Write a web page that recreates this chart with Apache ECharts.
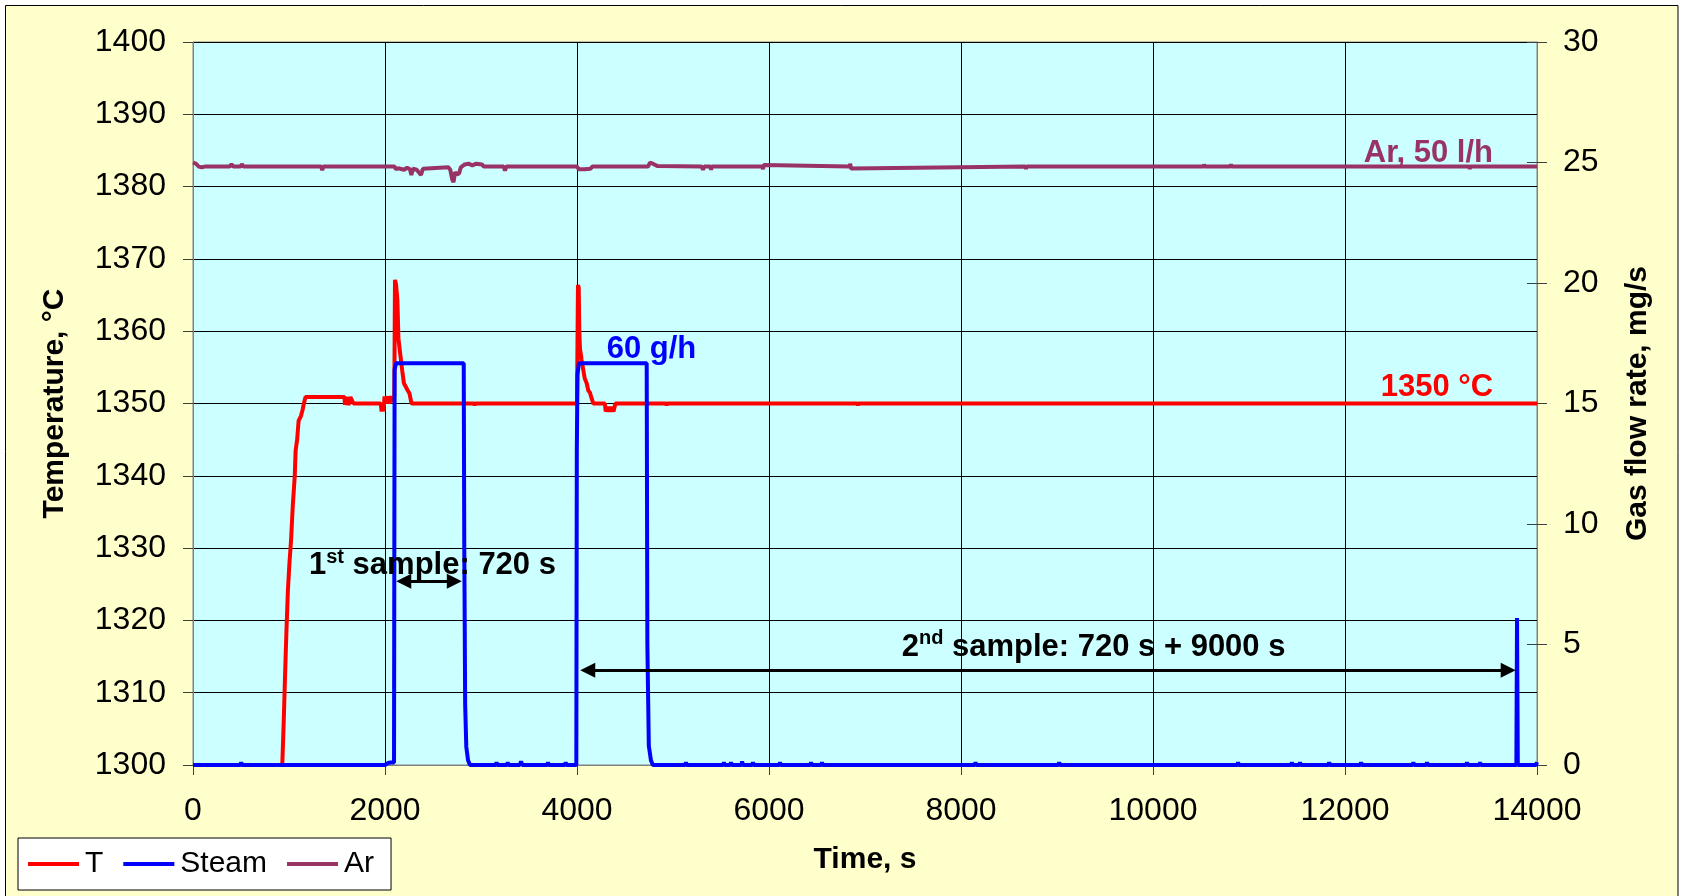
<!DOCTYPE html>
<html>
<head>
<meta charset="utf-8">
<script src="https://cdn.jsdelivr.net/npm/echarts@6/dist/echarts.min.js"></script>
<style>
  html, body { margin: 0; padding: 0; background: #fff; }
  #main { width: 1681px; height: 896px; }
</style>
</head>
<body>
<div id="main"></div>
<script>
// axis ticks
var timeTicks = [0, 2000, 4000, 6000, 8000, 10000, 12000, 14000];
var tempRange = [1300, 1400];
var flowRange = [0, 30];

// T, °C  [time s, temperature]
var tempPoints = [
  [930, 1300], [945, 1306], [958, 1312], [972, 1318], [988, 1324], [1005, 1328],
  [1021, 1331], [1040, 1336], [1060, 1340], [1069, 1343.5], [1085, 1345], [1100, 1347.6],
  [1125, 1348.3], [1141, 1349.1], [1155, 1350], [1172, 1350.9], [1578, 1350.9], [1583, 1349.8],
  [1595, 1350.9], [1612, 1350.9], [1620, 1349.8], [1640, 1350.9], [1660, 1350.9], [1672, 1350],
  [1955, 1350], [1965, 1348.9], [1975, 1350], [1985, 1348.9], [1995, 1351], [2005, 1350],
  [2025, 1351], [2040, 1350], [2060, 1351], [2080, 1350.2], [2097, 1351], [2104, 1367.1],
  [2115, 1366.5], [2129, 1364.3], [2140, 1359], [2150, 1357.8], [2165, 1356.2], [2180, 1354.5],
  [2197, 1352.8], [2215, 1352.6], [2237, 1351.8], [2255, 1351.4], [2276, 1350], [2930, 1350],
  [2934, 1349.7], [2938, 1350], [4000, 1350], [4010, 1366.4], [4018, 1366], [4024, 1360],
  [4031, 1357.6], [4048, 1356], [4066, 1354.6], [4080, 1353.5], [4101, 1352.8], [4118, 1351.8],
  [4135, 1351.5], [4150, 1350.8], [4170, 1350], [4290, 1350], [4300, 1348.9], [4320, 1349.5],
  [4340, 1348.9], [4360, 1349.5], [4380, 1348.9], [4400, 1350], [4930, 1350], [4934, 1349.7],
  [4938, 1350], [6920, 1350], [6925, 1349.7], [6930, 1350], [14000, 1350]
];

// Steam, mg/s  [time s, flow]
var steamPoints = [
  [0, 0], [495, 0], [502, 0.12], [509, 0], [2000, 0], [2030, 0.08], [2060, 0.1], [2094, 0.1],
  [2100, 16.4], [2115, 16.67], [2820, 16.67], [2826, 9], [2835, 2.5], [2847, 0.75], [2865, 0.2],
  [2885, 0], [3155, 0], [3162, 0.12], [3169, 0], [3271, 0], [3278, 0.12], [3285, 0], [3405, 0],
  [3417, 0.15], [3430, 0], [3691, 0], [3698, 0.12], [3705, 0], [3875, 0], [3882, 0.12], [3889, 0],
  [3993, 0], [3998, 13], [4005, 16.2], [4020, 16.67], [4726, 16.67], [4733, 5], [4748, 0.8],
  [4770, 0.2], [4790, 0], [5128, 0], [5135, 0.12], [5142, 0], [5523, 0], [5530, 0.12], [5537, 0],
  [5597, 0], [5604, 0.12], [5611, 0], [5713, 0], [5720, 0.15], [5727, 0], [5826, 0], [5833, 0.12],
  [5840, 0], [6108, 0], [6115, 0.12], [6122, 0], [6431, 0], [6438, 0.12], [6445, 0], [6545, 0],
  [6552, 0.12], [6559, 0], [8144, 0], [8151, 0.12], [8158, 0], [9016, 0], [9023, 0.12], [9030, 0],
  [10879, 0], [10886, 0.12], [10893, 0], [11439, 0], [11446, 0.12], [11453, 0], [11525, 0],
  [11532, 0.12], [11539, 0], [11828, 0], [11835, 0.12], [11842, 0], [12161, 0], [12168, 0.12],
  [12175, 0], [12705, 0], [12712, 0.12], [12719, 0], [12847, 0], [12854, 0.12], [12861, 0],
  [13263, 0], [13270, 0.12], [13277, 0], [13400, 0], [13407, 0.12], [13414, 0], [13785, 0],
  [13792, 6.1], [13800, 0], [13990, 0], [14000, 0.12]
];

// Ar, mg/s  [time s, flow]
var arPoints = [
  [0, 25.0], [30, 24.95], [60, 24.83], [90, 24.8], [124, 24.83], [380, 24.83], [401, 24.93],
  [420, 24.83], [495, 24.83], [509, 24.93], [525, 24.83], [1335, 24.83], [1346, 24.68],
  [1357, 24.83], [2100, 24.83], [2113, 24.72], [2140, 24.76], [2199, 24.7], [2230, 24.78],
  [2260, 24.72], [2275, 24.48], [2290, 24.74], [2330, 24.7], [2375, 24.48], [2395, 24.74],
  [2415, 24.8], [2660, 24.8], [2680, 24.7], [2700, 24.3], [2714, 24.18], [2730, 24.6],
  [2750, 24.5], [2772, 24.55], [2790, 24.8], [2830, 24.92], [2870, 24.95], [2910, 24.88],
  [2950, 24.95], [3010, 24.92], [3030, 24.83], [3237, 24.83], [3250, 24.66], [3265, 24.83],
  [4000, 24.83], [4020, 24.72], [4080, 24.72], [4140, 24.74], [4160, 24.83], [4740, 24.83],
  [4760, 25.0], [4800, 24.93], [4840, 24.85], [5300, 24.83], [5312, 24.7], [5325, 24.83],
  [5390, 24.83], [5397, 24.7], [5405, 24.83], [5930, 24.83], [5938, 24.72], [5946, 24.9],
  [5955, 24.83], [6840, 24.83], [6845, 24.95], [6855, 24.75], [6865, 24.83], [8670, 24.83],
  [8677, 24.73], [8685, 24.83], [10525, 24.83], [10531, 24.92], [10538, 24.83], [10805, 24.83],
  [10812, 24.92], [10820, 24.83], [13295, 24.83], [13300, 24.73], [13305, 24.83], [14000, 24.83]
];

// sample arrows, in time / temperature units
var arrow1 = [[2195, 1325.4], [2722, 1325.4]];
var arrow2 = [[4112, 1313.1], [13700, 1313.1]];

var FONT = "'Liberation Sans', Arial, sans-serif";

var chart = echarts.init(document.getElementById('main'));

var option = {
  animation: false,
  backgroundColor: '#ffffff',
  textStyle: { fontFamily: FONT, color: '#000' },
  grid: {
    left: 193, right: 144, top: 42, bottom: 131,
    show: true, backgroundColor: '#CCFFFF', borderColor: '#808080', borderWidth: 1
  },
  legend: {
    data: ['T', 'Steam', 'Ar'],
    left: 18, top: 838,
    orient: 'horizontal',
    icon: 'rect', itemWidth: 51, itemHeight: 4, itemGap: 20,
    backgroundColor: '#ffffff', borderColor: '#000', borderWidth: 1, borderRadius: 0,
    padding: [11, 17, 11, 10],
    textStyle: { fontSize: 30, color: '#000', fontFamily: FONT, padding: [0, 0, 0, 1] }
  },
  xAxis: {
    type: 'value', min: timeTicks[0], max: timeTicks[timeTicks.length - 1], interval: 2000,
    name: 'Time, s', nameLocation: 'middle', nameGap: 80,
    nameTextStyle: { fontSize: 30, fontWeight: 'bold', color: '#000' },
    axisLine: { show: true, lineStyle: { color: '#808080', width: 1 } },
    axisTick: { show: true, inside: false, length: 10, lineStyle: { color: '#404040' } },
    axisLabel: { fontSize: 32, color: '#000', margin: 30, formatter: function (v) { return String(v); } },
    splitLine: { show: true, lineStyle: { color: '#000', width: 1 } }
  },
  yAxis: [{
    type: 'value', min: tempRange[0], max: tempRange[1], interval: 10, position: 'left',
    name: 'Temperature, °C', nameLocation: 'middle', nameGap: 123, nameRotate: 90,
    nameTextStyle: { fontSize: 30, fontWeight: 'bold', color: '#000' },
    axisLine: { show: true, lineStyle: { color: '#808080', width: 1 } },
    axisTick: { show: true, inside: false, length: 10, lineStyle: { color: '#404040' } },
    axisLabel: { fontSize: 32, color: '#000', margin: 27, formatter: function (v) { return String(v); } },
    splitLine: { show: true, lineStyle: { color: '#000', width: 1 } }
  }, {
    type: 'value', min: flowRange[0], max: flowRange[1], interval: 5, position: 'right',
    name: 'Gas flow rate, mg/s', nameLocation: 'middle', nameGap: 86, nameRotate: 90,
    nameTextStyle: { fontSize: 30, fontWeight: 'bold', color: '#000' },
    axisLine: { show: true, lineStyle: { color: '#808080', width: 1 } },
    axisTick: { show: true, inside: false, length: 10, lineStyle: { color: '#404040' } },
    axisLabel: { fontSize: 32, color: '#000', margin: 26 },
    splitLine: { show: false }
  }, {
    // inner half of the crossing ticks on the right axis
    type: 'value', min: flowRange[0], max: flowRange[1], interval: 5, position: 'right',
    axisLine: { show: false },
    axisTick: { show: true, inside: true, length: 10, lineStyle: { color: '#404040' } },
    axisLabel: { show: false },
    splitLine: { show: false }
  }],
  series: [{
    name: 'T', type: 'line', yAxisIndex: 0, data: tempPoints,
    showSymbol: false, symbol: 'none', z: 3,
    lineStyle: { color: '#FF0000', width: 4 }, itemStyle: { color: '#FF0000' },
    markLine: {
      silent: true, symbol: ['triangle', 'triangle'], symbolSize: 15,
      label: { show: false },
      lineStyle: { color: '#000', width: 3, type: 'solid' },
      data: [
        [{ coord: arrow1[0] }, { coord: arrow1[1] }],
        [{ coord: arrow2[0] }, { coord: arrow2[1] }]
      ]
    }
  }, {
    name: 'Ar', type: 'line', yAxisIndex: 1, data: arPoints,
    showSymbol: false, symbol: 'none', z: 3,
    lineStyle: { color: '#993366', width: 4 }, itemStyle: { color: '#993366' }
  }, {
    name: 'Steam', type: 'line', yAxisIndex: 1, data: steamPoints,
    showSymbol: false, symbol: 'none', z: 4,
    lineStyle: { color: '#0000FF', width: 4 }, itemStyle: { color: '#0000FF' }
  }]
};
chart.setOption(option);

// text annotations anchored in time / temperature space
var notes = [
  { at: [1208, 1327.8], align: 'left', color: '#000',
    text: '{a|1}{s|st}{a| sample: 720 s}' },
  { at: [7382, 1316.5], align: 'left', color: '#000',
    text: '{a|2}{s|nd}{a| sample: 720 s + 9000 s}' },
  { at: [4309, 1357.7], align: 'left', color: '#0000FF', text: '{a|60 g/h}' },
  { at: [13542, 1384.85], align: 'right', color: '#993366', text: '{a|Ar, 50 l/h}' },
  { at: [13542, 1352.45], align: 'right', color: '#FF0000', text: '{a|1350 °C}' }
];

var graphics = [{
  type: 'rect', z: -10, silent: true,
  shape: { x: 5.5, y: 5.5, width: 1672.5, height: 900 },
  style: { fill: '#FFFFCC', stroke: '#000', lineWidth: 1 }
}];
notes.forEach(function (n) {
  var p = chart.convertToPixel({ xAxisIndex: 0, yAxisIndex: 0 }, n.at);
  graphics.push({
    type: 'text', x: p[0], y: p[1], z: 10, silent: true,
    style: {
      text: n.text, align: n.align, verticalAlign: 'middle',
      rich: {
        a: { fontFamily: FONT, fontSize: 31, fontWeight: 'bold', fill: n.color, color: n.color, lineHeight: 34, verticalAlign: 'bottom' },
        s: { fontFamily: FONT, fontSize: 20, fontWeight: 'bold', fill: n.color, color: n.color, lineHeight: 22, verticalAlign: 'top' }
      }
    }
  });
});
chart.setOption({ graphic: graphics });
</script>
</body>
</html>
